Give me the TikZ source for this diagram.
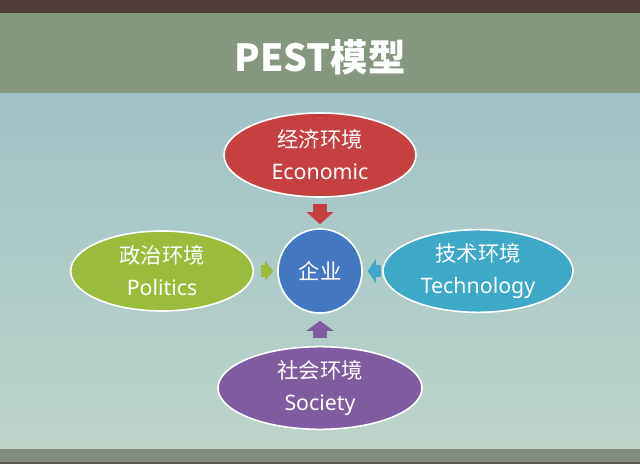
\documentclass[tikz,border=0pt]{standalone}
\usepackage{fontspec}
\setmainfont{Noto Sans}
\newfontfamily\cjk{Noto Sans CJK SC}
\usetikzlibrary{shapes.geometric,arrows.meta}
\definecolor{topband}{HTML}{4E3D38}
\definecolor{header}{HTML}{85977F}
\definecolor{bgtop}{HTML}{A0C2C7}
\definecolor{bgbot}{HTML}{BDD4C9}
\definecolor{botband}{HTML}{7F8C7E}
\definecolor{botdark}{HTML}{5B5A50}
\definecolor{ered}{HTML}{C6403F}
\definecolor{pgreen}{HTML}{9BBB3C}
\definecolor{tblue}{HTML}{3DA8C8}
\definecolor{spurple}{HTML}{7F5BA0}
\definecolor{ccore}{HTML}{4278C2}
\begin{document}
\begin{tikzpicture}[x=0.75pt,y=-0.75pt,
  env/.style={ellipse, draw=white, line width=1.2pt, inner sep=0pt,
    align=center, text=white, font=\fontsize{16}{24}\selectfont},
  core/.style={circle, draw=white, line width=1.2pt, inner sep=0pt,
    minimum size=63pt, fill=ccore, text=white, font=\fontsize{16}{20}\selectfont\cjk},
  titletext/.style={text=white, font=\fontsize{28}{32}\selectfont\cjk\bfseries},
  barrow/.style={line width=#1}]
\useasboundingbox (0,0) rectangle (640,464);
\shade[top color=bgtop, bottom color=bgbot] (0,93) rectangle (640,449);
\fill[header] (0,13) rectangle (640,93);
\fill[topband] (0,0) rectangle (640,13);
\fill[botband] (0,449) rectangle (640,462);
\fill[botdark] (0,462) rectangle (640,464);

\node[titletext] (title) at (320,57) {PEST模型};

\node[env, fill=ered, minimum width=144pt, minimum height=63pt] (E) at (320,155) {{\cjk 经济环境}\\Economic};
\node[env, fill=pgreen, minimum width=137pt, minimum height=60pt] (P) at (162,271) {{\cjk 政治环境}\\Politics};
\node[env, fill=tblue, minimum width=142.5pt, minimum height=62pt] (T) at (478,271) {{\cjk 技术环境}\\Technology};
\node[env, fill=spurple, minimum width=153pt, minimum height=62pt] (S) at (320,388) {{\cjk 社会环境}\\Society};
\node[core] (C) at (320,271) {企业};

\draw[ered, line width=10.5pt, -{Triangle[width=19.5pt,length=9pt]},
  shorten <=4.5pt, shorten >=3pt] (E) -- (C);
\draw[pgreen, line width=9pt, -{Triangle[width=15pt,length=6pt]},
  shorten <=5.25pt, shorten >=3pt] (P) -- (C);
\draw[tblue, line width=9pt, -{Triangle[width=18pt,length=6pt]},
  shorten <=1pt, shorten >=3.75pt] (T) -- (C);
\draw[spurple, line width=10.5pt, -{Triangle[width=20pt,length=7.5pt]},
  shorten <=6pt, shorten >=5.25pt] (S) -- (C);
\end{tikzpicture}
\end{document}
